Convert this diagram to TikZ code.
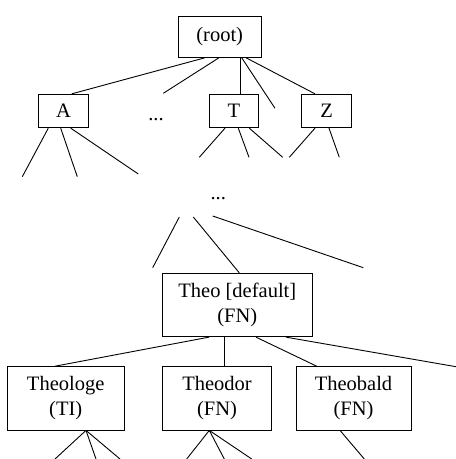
\documentclass[tikz,border=0pt]{standalone}
\usepackage{fontspec}
\setmainfont{Liberation Serif}

\begin{document}
\begin{tikzpicture}[x = 1pt, y = -1pt, line width = 0.9pt,
	font = \fontsize{20.5}{25}\selectfont,
	entry/.style = {draw, inner sep = 0pt, align = center}]

	\useasboundingbox (0, 0) rectangle (456, 459);

	% Letter level

	\node [entry, minimum width = 82.7pt, minimum height = 40.6pt] (root) at (219.7, 37) {(root)};
	\node [entry, minimum width = 49.6pt, minimum height = 33.4pt] (a) at (63.5, 111) {A};
	\node [entry, minimum width = 49pt, minimum height = 33.4pt] (t) at (233.8, 111) {T};
	\node [entry, minimum width = 50pt, minimum height = 33.4pt] (z) at (326.7, 111) {Z};
	\node [anchor = base] (dotsa) at (156, 120) {...};
	\node [anchor = base] (dotsb) at (218.3, 199) {...};

	% Word level

	\node [entry, minimum width = 150pt, minimum height = 63.4pt] (theo) at (237.3, 305) {Theo [default]\\(FN)};
	\node [entry, minimum width = 116.7pt, minimum height = 63.3pt] (theologe) at (65.7, 398.3) {Theologe\\(TI)};
	\node [entry, minimum width = 109.4pt, minimum height = 63.3pt] (theodor) at (217, 398.3) {Theodor\\(FN)};
	\node [entry, minimum width = 115pt, minimum height = 63.3pt] (theobald) at (353.5, 398.3) {Theobald\\(FN)};

	% Loose ends

	\coordinate (r1) at (163.3, 93.3);
	\coordinate (r2) at (275, 108.3);
	\foreach \n/\x/\y in {a1/22.3/176.7, a2/77.3/176.7, a3/138.3/174,
			t1/199.3/157.3, t2/249/157.3, t3/282.7/157.3,
			z1/289.3/157.3, z2/339.3/157.3,
			d1/152.7/267.7, d2/363.3/267.7, e1/456/366.7,
			g1/55/459, g2/96/459, g3/120/459,
			h1/186.7/459, h2/224.3/459, h3/251.7/459, k1/364.3/459}
		\coordinate (\n) at (\x, \y);

	% Edges

	\draw ([xshift = -14.7pt] root.south) -- ([xshift = 8.2pt] a.north);
	\draw ([xshift = -0.7pt] root.south) -- (r1);
	\draw ([xshift = 20.3pt] root.south) -- ([xshift = 6.2pt] t.north);
	\draw ([xshift = 22pt] root.south) -- (r2);
	\draw ([xshift = 26.3pt] root.south) -- ([xshift = -11.7pt] z.north);

	\draw ([xshift = -15.2pt] a.south) -- (a1);
	\draw ([xshift = -2.8pt] a.south) -- (a2);
	\draw ([xshift = 7.2pt] a.south) -- (a3);
	\draw ([xshift = -8.8pt] t.south) -- (t1);
	\draw ([xshift = 4.5pt] t.south) -- (t2);
	\draw ([xshift = 15.5pt] t.south) -- (t3);
	\draw ([xshift = -11.7pt] z.south) -- (z1);
	\draw ([xshift = 2.3pt] z.south) -- (z2);

	\draw ([xshift = -39pt, yshift = -18pt] dotsb.base) -- (d1);
	\draw ([xshift = -25pt, yshift = -18pt] dotsb.base) -- ([xshift = 2pt] theo.north);
	\draw ([xshift = -5.6pt, yshift = -17pt] dotsb.base) -- (d2);

	\draw ([xshift = -28.3pt] theo.south) -- (theologe.north -| 55, 0);
	\draw ([xshift = -13pt] theo.south) -- (theodor.north -| 224.3, 0);
	\draw ([xshift = 18.7pt] theo.south) -- (theobald.north -| 316.7, 0);
	\draw ([xshift = 48.7pt] theo.south) -- (e1);

	\draw ([xshift = 20.3pt] theologe.south) -- (g1);
	\draw ([xshift = 20.3pt] theologe.south) -- (g2);
	\draw ([xshift = 20.3pt] theologe.south) -- (g3);
	\draw ([xshift = -7.7pt] theodor.south) -- (h1);
	\draw ([xshift = -7.7pt] theodor.south) -- (h2);
	\draw ([xshift = -7.7pt] theodor.south) -- (h3);
	\draw ([xshift = -13.5pt] theobald.south) -- (k1);

\end{tikzpicture}
\end{document}
